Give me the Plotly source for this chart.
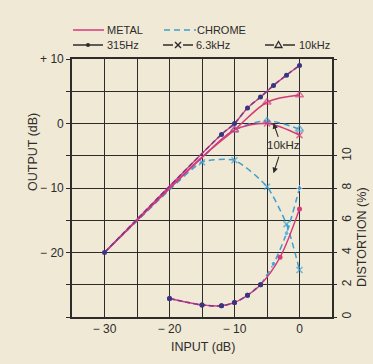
import plotly.graph_objects as go

# ---------------- data ----------------
# Output level curves (left axis, dB)
in_315 = [-30, -12, -10, -8, -6, -4, -2, 0]
out_315 = [-20, -1.7, 0.0, 2.4, 4.1, 5.9, 7.5, 9.0]

in_metal_10k = [-30, -20, -15, -10, -5, 0]
out_metal_10k = [-20, -10.0, -5.2, -1.0, 3.3, 4.4]
mk_metal_10k = [-10, -5, 0]

in_metal_63k = [-30, -20, -15, -10, -5, 0]
out_metal_63k = [-20, -10.1, -5.3, -1.0, 0.0, -1.8]
mk_metal_63k = [-5, 0]

in_chrome_10k = [-30, -20, -15, -10, -5, 0]
out_chrome_10k = [-20, -10.1, -5.3, -1.0, 0.4, -0.9]
mk_chrome_10k = [-10, -5, 0]

in_chrome_63k = [-30, -20, -15, -10, -5, -2, 0]
out_chrome_63k = [-20, -10.3, -6.0, -5.7, -9.8, -15.6, -22.7]
mk_chrome_63k = [-15, -10, -5, -2, 0]

# Distortion at 315 Hz (right axis, %)
in_dist_metal = [-20, -15, -12, -10, -8, -6, -3, 0]
dist_metal = [1.15, 0.75, 0.7, 0.9, 1.35, 2.0, 3.7, 6.7]
in_dist_chrome = [-20, -15, -12, -10, -8, -6, -4, -2, 0]
dist_chrome = [1.15, 0.75, 0.7, 0.9, 1.35, 2.0, 3.3, 5.2, 8.0]

x_ticks = [-35, -30, -25, -20, -15, -10, -5, 0, 5]
x_ticktext = ["", "\u2212 30", "", "\u2212 20", "", "\u2212 10", "", "0", ""]
y_ticks = [-30, -25, -20, -15, -10, -5, 0, 5, 10]
y_ticktext = ["", "", "\u2212 20", "", "\u2212 10", "", "0", "", "+ 10"]
y2_ticks = [0, 2, 4, 6, 8, 10, 12, 14, 16]
y2_ticktext = ["0", "2", "4", "6", "8", "10", "", "", ""]

# ---------------- style ----------------
BG = "#efe9d6"
INK = "#2e2c2a"
MAG = "#d6397a"
BLUE = "#3d9fd3"
NAVY = "#3a3580"
PURP = "#7b3b8e"
FONT = "Liberation Sans, Arial, sans-serif"

fig = go.Figure()


def sizes(xs, marked, s):
    return [s if x in marked else 0 for x in xs]


def line_trace(xs, ys, color, dash, yaxis="y", width=1.5, smoothing=0.9, marker=None):
    return go.Scatter(x=xs, y=ys, yaxis=yaxis, mode="lines+markers" if marker else "lines",
                      line=dict(color=color, width=width, dash=dash, shape="spline", smoothing=smoothing),
                      marker=marker, showlegend=False, hoverinfo="skip", cliponaxis=False)


# chrome (dashed blue) output curves
fig.add_trace(line_trace(in_chrome_63k, out_chrome_63k, BLUE, "6px,4px", smoothing=0.6,
                         marker=dict(symbol="x-thin", size=sizes(in_chrome_63k, mk_chrome_63k, 6),
                                     line=dict(color=BLUE, width=1.5), color=BLUE)))
fig.add_trace(line_trace(in_chrome_10k, out_chrome_10k, BLUE, "6px,4px",
                         marker=dict(symbol="triangle-up-open", size=sizes(in_chrome_10k, mk_chrome_10k, 7),
                                     line=dict(color=BLUE, width=1.5), color=BLUE)))
# metal (solid magenta) output curves
fig.add_trace(line_trace(in_metal_63k, out_metal_63k, MAG, "solid",
                         marker=dict(symbol="x-thin", size=sizes(in_metal_63k, mk_metal_63k, 6),
                                     line=dict(color=MAG, width=1.5), color=MAG)))
fig.add_trace(line_trace(in_metal_10k, out_metal_10k, MAG, "solid",
                         marker=dict(symbol="triangle-up-open", size=sizes(in_metal_10k, mk_metal_10k, 7),
                                     line=dict(color=MAG, width=1.5), color=MAG)))
# 315 Hz output (same for both tapes)
fig.add_trace(line_trace(in_315, out_315, MAG, "solid", width=1.3))
fig.add_trace(line_trace(in_315, out_315, PURP, "5px,3px", width=1.6,
                         marker=dict(symbol="circle", size=5, color=NAVY)))

# distortion curves (right axis)
shared = [x for x, v in zip(in_dist_chrome, dist_chrome)
          if x in in_dist_metal and dist_metal[in_dist_metal.index(x)] == v]
n_shared = len(shared)
fig.add_trace(line_trace(in_dist_chrome[n_shared - 1:], dist_chrome[n_shared - 1:], BLUE, "6px,4px",
                         yaxis="y2",
                         marker=dict(symbol="circle", size=sizes(in_dist_chrome[n_shared - 1:],
                                                                  in_dist_chrome[n_shared:], 5), color=BLUE)))
fig.add_trace(line_trace(in_dist_metal, dist_metal, MAG, "solid", yaxis="y2", width=1.4,
                         marker=dict(symbol="circle", size=5,
                                     color=[NAVY if x in shared else MAG for x in in_dist_metal])))
fig.add_trace(line_trace(in_dist_chrome[:n_shared], dist_chrome[:n_shared], PURP, "5px,3px", yaxis="y2",
                         width=1.6, marker=dict(symbol="circle", size=5, color=NAVY)))

# ---------------- layout ----------------
L, R, T, B = 72, 41, 59, 47
W, H = 373, 364
PW, PH = W - L - R, H - T - B


def px(xp):
    return (xp - L) / PW


def py(yp):
    return (H - B - yp) / PH


shapes = []
annotations = []
tf = dict(family=FONT, size=11, color=INK)


def leg_line(x0, x1, yp, color, dash="solid"):
    shapes.append(dict(type="line", xref="paper", yref="paper", x0=px(x0), x1=px(x1), y0=py(yp), y1=py(yp),
                       line=dict(color=color, width=1.5, dash=dash)))


def leg_text(x, yp, text):
    annotations.append(dict(xref="paper", yref="paper", x=px(x), y=py(yp), text=text, showarrow=False,
                            xanchor="left", yanchor="middle", font=tf))


# row 1
leg_line(73, 104, 30, MAG)
leg_text(105, 30, "METAL")
leg_line(164, 196, 30, BLUE, "6px,4px")
leg_text(195, 30, "CHROME")
# row 2
leg_line(73, 103, 45, INK)
shapes.append(dict(type="circle", xref="paper", yref="paper", xsizemode="pixel", ysizemode="pixel",
                   xanchor=px(88), yanchor=py(45), x0=-2, x1=2, y0=-2, y1=2,
                   fillcolor=INK, line=dict(color=INK, width=0)))
leg_text(105, 45, "315Hz")
leg_line(163, 173, 45, INK)
leg_line(183, 193, 45, INK)
for a, b in [(-3, 3), (3, -3)]:
    shapes.append(dict(type="line", xref="paper", yref="paper", xsizemode="pixel", ysizemode="pixel",
                       xanchor=px(178), yanchor=py(45), x0=-3, x1=3, y0=a, y1=b,
                       line=dict(color=INK, width=1.4)))
leg_text(194, 45, "6.3kHz")
leg_line(265, 274, 45, INK)
leg_line(283, 295, 45, INK)
shapes.append(dict(type="path", xref="paper", yref="paper", xsizemode="pixel", ysizemode="pixel",
                   xanchor=px(278.5), yanchor=py(45), path="M -3.5,-2.5 L 3.5,-2.5 L 0,3.5 Z",
                   line=dict(color=INK, width=1.3)))
leg_text(297, 45, "10kHz")

# axis titles
annotations.append(dict(xref="paper", yref="paper", x=px(33), y=py(152), text="OUTPUT (dB)", textangle=-90,
                        showarrow=False, xanchor="center", yanchor="middle",
                        font=dict(family=FONT, size=12.5, color=INK)))
annotations.append(dict(xref="paper", yref="paper", x=px(362), y=py(237), text="DISTORTION (%)", textangle=-90,
                        showarrow=False, xanchor="center", yanchor="middle",
                        font=dict(family=FONT, size=12.5, color=INK)))
annotations.append(dict(xref="paper", yref="paper", x=px(203), y=py(347), text="INPUT (dB)",
                        showarrow=False, xanchor="center", yanchor="middle",
                        font=dict(family=FONT, size=12.5, color=INK)))

# 10kHz callout
annotations.append(dict(x=-2.5, y=-3.4, xref="x", yref="y", text="10kHz", showarrow=False,
                        font=dict(family=FONT, size=11.5, color=INK)))
annotations.append(dict(x=-4.0, y=0.05, ax=-3.2, ay=-2.3, xref="x", yref="y", axref="x", ayref="y",
                        text="", showarrow=True, arrowhead=2, arrowsize=1, arrowwidth=1.1, arrowcolor=INK))
annotations.append(dict(x=-4.0, y=-7.7, ax=-3.1, ay=-4.9, xref="x", yref="y", axref="x", ayref="y",
                        text="", showarrow=True, arrowhead=2, arrowsize=1, arrowwidth=1.1, arrowcolor=INK))

tickfont = dict(family=FONT, size=12, color=INK)
fig.update_layout(
    width=W, height=H, margin=dict(l=L, r=R, t=T, b=B, pad=0, autoexpand=False),
    paper_bgcolor=BG, plot_bgcolor=BG,
    showlegend=False, shapes=shapes, annotations=annotations,
    xaxis=dict(range=[-35, 5], tickvals=x_ticks, ticktext=x_ticktext, showgrid=True, gridcolor=INK,
               gridwidth=1.1, zeroline=False, showline=True, linecolor=INK, linewidth=1.6, mirror=True,
               ticks="", tickfont=tickfont, fixedrange=True),
    yaxis=dict(range=[-30, 10], tickvals=y_ticks, ticktext=y_ticktext, showgrid=True, gridcolor=INK,
               gridwidth=1.1, zeroline=False, showline=True, linecolor=INK, linewidth=1.6, mirror=True,
               ticks="outside", ticklen=4, tickcolor=INK, tickwidth=1.2, tickfont=tickfont, fixedrange=True),
    yaxis2=dict(range=[0, 16], tickvals=y2_ticks, ticktext=y2_ticktext, overlaying="y", side="right",
                showgrid=False, zeroline=False, showline=False, ticks="outside", ticklen=4, tickcolor=INK,
                tickwidth=1.2, tickangle=-90, tickfont=tickfont, fixedrange=True),
)

page_css = ("document.body.style.margin='0';document.body.style.padding='0';"
            "document.body.style.background='%s';document.body.style.overflow='hidden';" % BG)
fig.write_html("out.html", post_script=page_css, config={"displayModeBar": False})
